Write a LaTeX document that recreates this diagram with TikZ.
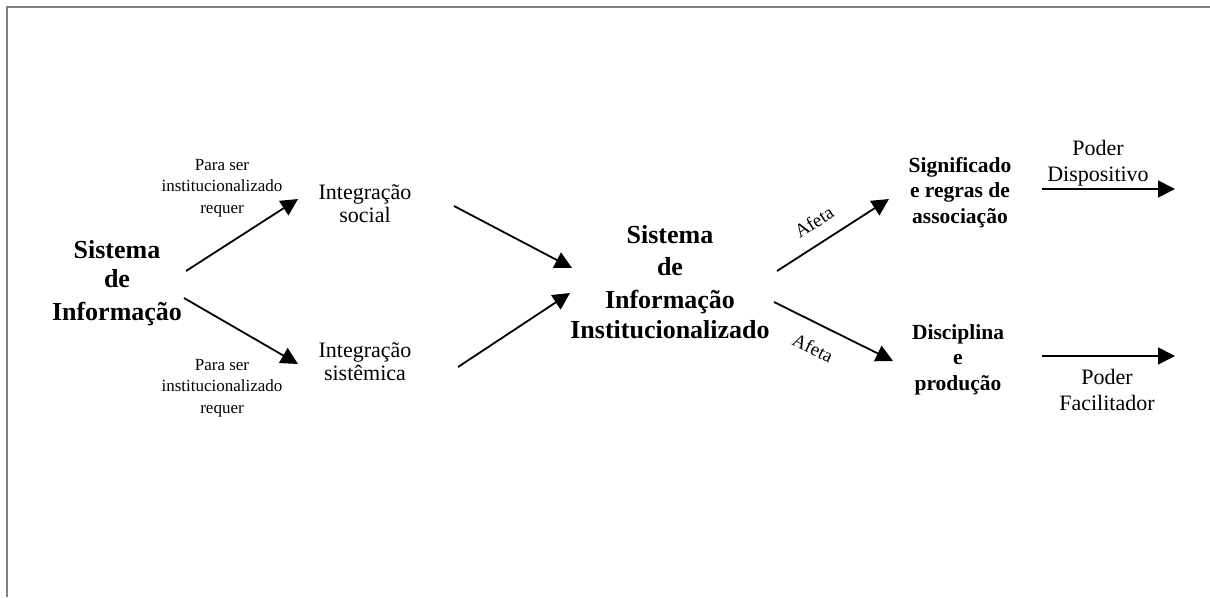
\documentclass[tikz,border=0pt]{standalone}
\usepackage{fontspec}
\setmainfont{Liberation Serif}
\usetikzlibrary{arrows.meta}
\begin{document}
\begin{tikzpicture}[x=1pt,y=-1pt,
  conn/.style={line width=1.8pt,-{Triangle[length=17pt,width=17pt]}},
  bigbold/.style={align=center,anchor=base,inner sep=0pt,font=\fontsize{26}{31}\selectfont\bfseries},
  midbold/.style={align=center,anchor=base,inner sep=0pt,font=\fontsize{21.5}{25.5}\selectfont\bfseries},
  midtext/.style={align=center,anchor=base,inner sep=0pt,font=\fontsize{22}{23}\selectfont},
  smalltext/.style={align=center,anchor=base,inner sep=0pt,font=\fontsize{17}{21.5}\selectfont},
  edgelabel/.style={inner sep=0pt,font=\fontsize{19}{22}\selectfont}]
\useasboundingbox (0,0) rectangle (1210,597);
\draw[line width=2pt,gray] (6.5,597) -- (6.5,6.5) -- (1210,6.5);

\node[bigbold] (si) at (117,320) {Sistema\\[-2pt]de\\[2pt]Informação};
\node[smalltext] (req1) at (222,213) {Para ser\\institucionalizado\\requer};
\node[smalltext] (req2) at (222,413) {Para ser\\institucionalizado\\requer};
\node[midtext] (social) at (365,222) {Integração\\social};
\node[midtext] (sistemica) at (365,380) {Integração\\sistêmica};
\node[bigbold,font=\fontsize{26}{32.5}\selectfont\bfseries] (sii) at (670,338) {Sistema\\de\\Informação\\[-2.5pt]Institucionalizado};
\node[midbold] (sig) at (960,223) {Significado\\e regras de\\associação};
\node[midbold] (disc) at (958,390) {Disciplina\\e\\produção};
\node[midtext,font=\fontsize{22}{26}\selectfont] (pd) at (1098,181) {Poder\\Dispositivo};
\node[midtext,font=\fontsize{22}{26}\selectfont] (pf) at (1107,410) {Poder\\Facilitador};

\coordinate (a1s) at (186,271); \coordinate (a1e) at (298,199);
\coordinate (a2s) at (184,298); \coordinate (a2e) at (298,364);
\coordinate (a3s) at (454,206); \coordinate (a3e) at (572,268);
\coordinate (a4s) at (458,367); \coordinate (a4e) at (570,293);
\coordinate (a5s) at (777,271); \coordinate (a5e) at (889,199);
\coordinate (a6s) at (774,302); \coordinate (a6e) at (893,361);
\coordinate (a7s) at (1042,189); \coordinate (a7e) at (1175,189);
\coordinate (a8s) at (1042,356); \coordinate (a8e) at (1175,356);

\draw[conn] (a1s) -- (a1e);
\draw[conn] (a2s) -- (a2e);
\draw[conn] (a3s) -- (a3e);
\draw[conn] (a4s) -- (a4e);
\draw[conn] (a5s) -- (a5e);
\draw[conn] (a6s) -- (a6e);
\draw[conn] (a7s) -- (a7e);
\draw[conn] (a8s) -- (a8e);

\node[edgelabel,rotate=32.6] (af1) at (814,222) {Afeta};
\node[edgelabel,rotate=-26] (af2) at (813,348) {Afeta};
\end{tikzpicture}
\end{document}
